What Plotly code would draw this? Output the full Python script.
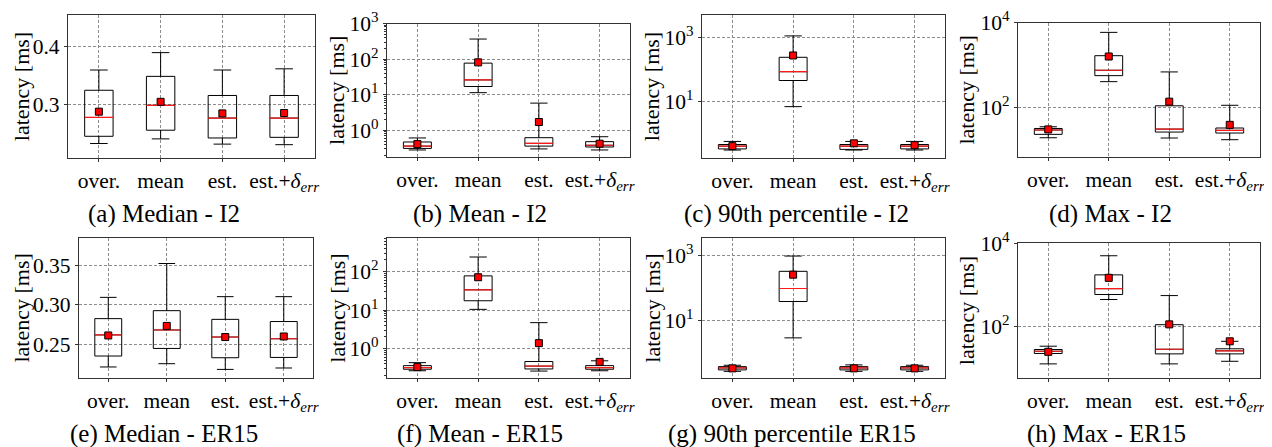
import plotly.graph_objects as go

W, H = 1272, 447
OFF = 8  # page body margin of the browser
FW, FH = W - OFF, H - OFF

categories = ["over.", "mean", "est.", "est.+<i>δ</i><sub><i>err</i></sub>"]

# (a) Median - I2
a_lo = [0.233, 0.241, 0.232, 0.231]
a_q1 = [0.2455, 0.256, 0.2426, 0.2437]
a_med = [0.278, 0.299, 0.277, 0.277]
a_q3 = [0.325, 0.349, 0.316, 0.316]
a_hi = [0.360, 0.390, 0.360, 0.362]
a_mean = [0.288, 0.305, 0.285, 0.2857]

# (b) Mean - I2
b_lo = [0.28, 11.4, 0.30, 0.28]
b_q1 = [0.31, 17.0, 0.36, 0.34]
b_med = [0.36, 26.0, 0.43, 0.38]
b_q3 = [0.47, 77.0, 0.62, 0.48]
b_hi = [0.61, 366.0, 5.8, 0.66]
b_mean = [0.41, 81.0, 1.71, 0.42]

# (c) 90th percentile - I2
c_lo = [0.295, 6.8, 0.295, 0.295]
c_q1 = [0.32, 45.0, 0.31, 0.32]
c_med = [0.39, 85.0, 0.39, 0.39]
c_q3 = [0.44, 241.0, 0.44, 0.44]
c_hi = [0.55, 1130.0, 0.55, 0.55]
c_mean = [0.39, 275.0, 0.48, 0.42]

# (d) Max - I2
d_lo = [18.7, 400.0, 18.4, 16.8]
d_q1 = [22.5, 555.0, 25.5, 24.2]
d_med = [28.5, 745.0, 30.0, 28.0]
d_q3 = [31.0, 1650.0, 107.0, 31.8]
d_hi = [34.0, 5900.0, 680.0, 110.0]
d_mean = [29.5, 1580.0, 134.0, 37.8]

# (e) Median - ER15
e_lo = [0.2207, 0.2249, 0.2176, 0.2194]
e_q1 = [0.2347, 0.2444, 0.2325, 0.2329]
e_med = [0.2617, 0.268, 0.259, 0.2568]
e_q3 = [0.2825, 0.2927, 0.2816, 0.2788]
e_hi = [0.3097, 0.353, 0.3106, 0.3106]
e_mean = [0.261, 0.2732, 0.259, 0.2597]

# (f) Mean - ER15
f_lo = [0.265, 10.4, 0.26, 0.265]
f_q1 = [0.29, 17.4, 0.295, 0.29]
f_med = [0.32, 33.5, 0.35, 0.32]
f_q3 = [0.36, 77.0, 0.46, 0.36]
f_hi = [0.43, 238.0, 4.7, 0.48]
f_mean = [0.33, 71.0, 1.38, 0.45]

# (g) 90th percentile ER15
g_lo = [0.28, 2.95, 0.28, 0.28]
g_q1 = [0.31, 38.0, 0.31, 0.31]
g_med = [0.355, 95.0, 0.355, 0.355]
g_q3 = [0.39, 318.0, 0.39, 0.39]
g_hi = [0.43, 930.0, 0.44, 0.43]
g_mean = [0.345, 251.0, 0.345, 0.345]

# (h) Max - ER15
h_lo = [12.3, 436.0, 12.3, 14.2]
h_q1 = [21.9, 575.0, 21.4, 21.4]
h_med = [24.8, 795.0, 27.7, 25.4]
h_q3 = [27.3, 1710.0, 108.0, 28.4]
h_hi = [32.8, 4930.0, 542.0, 43.0]
h_mean = [24.0, 1450.0, 110.0, 43.0]

captions = ["(a) Median - I2", "(b) Mean - I2", "(c) 90th percentile - I2", "(d) Max - I2",
            "(e) Median - ER15", "(f) Mean - ER15", "(g) 90th percentile ER15", "(h) Max - ER15"]

panels = [
    dict(data=(a_lo, a_q1, a_med, a_q3, a_hi, a_mean), log=False, rng=[0.208, 0.455],
         tv=[0.3, 0.4], tt=["0.3", "0.4"], dom=(68, 315, 15, 158), ytx=21.7, capx=164, capy=214),
    dict(data=(b_lo, b_q1, b_med, b_q3, b_hi, b_mean), log=True, rng=[-0.75, 3.0],
         tv=[1, 10, 100, 1000], tt=["10<sup>0</sup>", "10<sup>1</sup>", "10<sup>2</sup>", "10<sup>3</sup>"],
         dom=(387, 630, 23.5, 157), ytx=336.7, capx=480, capy=214, minor=True),
    dict(data=(c_lo, c_q1, c_med, c_q3, c_hi, c_mean), log=True, rng=[-0.78, 3.71],
         tv=[10, 1000], tt=["10<sup>1</sup>", "10<sup>3</sup>"], dom=(702, 945, 15, 158),
         ytx=651.7, capx=796, capy=214),
    dict(data=(d_lo, d_q1, d_med, d_q3, d_hi, d_mean), log=True, rng=[0.815, 4.0],
         tv=[100, 10000], tt=["10<sup>2</sup>", "10<sup>4</sup>"], dom=(1018, 1260, 22.7, 157),
         ytx=966.7, capx=1110, capy=214),
    dict(data=(e_lo, e_q1, e_med, e_q3, e_hi, e_mean), log=False, rng=[0.2066, 0.386],
         tv=[0.25, 0.30, 0.35], tt=["0.25", "0.30", "0.35"], dom=(79, 313, 237.7, 378),
         ytx=21.7, capx=164, capy=434),
    dict(data=(f_lo, f_q1, f_med, f_q3, f_hi, f_mean), log=True, rng=[-0.765, 2.87],
         tv=[1, 10, 100], tt=["10<sup>0</sup>", "10<sup>1</sup>", "10<sup>2</sup>"],
         dom=(387, 630, 238, 378), ytx=336.7, capx=480, capy=434, minor=True),
    dict(data=(g_lo, g_q1, g_med, g_q3, g_hi, g_mean), log=True, rng=[-0.756, 3.52],
         tv=[10, 1000], tt=["10<sup>1</sup>", "10<sup>3</sup>"], dom=(702, 945, 238, 378),
         ytx=651.7, capx=792, capy=434),
    dict(data=(h_lo, h_q1, h_med, h_q3, h_hi, h_mean), log=True, rng=[0.75, 4.0],
         tv=[100, 10000], tt=["10<sup>2</sup>", "10<sup>4</sup>"], dom=(1018, 1260, 243, 378),
         ytx=966.7, capx=1106, capy=434),
]

FONT = "Liberation Serif"
SPINE = "#333333"
GRID = "#8c8c8c"
positions = list(range(len(categories)))
BOXW = 0.46


def px_x(x):
    return (x - OFF) / FW


def px_y(y):
    return 1 - (y - OFF) / FH


fig = go.Figure()
annotations = []
layout_axes = {}

for i, p in enumerate(panels):
    n = i + 1
    xa = "x" if n == 1 else f"x{n}"
    ya = "y" if n == 1 else f"y{n}"
    lo, q1, med, q3, hi, mean = p["data"]
    fig.add_trace(go.Box(
        x=positions, q1=q1, median=med, q3=q3, lowerfence=lo, upperfence=hi,
        xaxis=xa, yaxis=ya, width=BOXW, whiskerwidth=0.62,
        line=dict(color="black", width=1), fillcolor="rgba(0,0,0,0)",
        boxpoints=False, showlegend=False, hoverinfo="skip"))
    # red median lines
    fig.add_trace(go.Box(
        x=positions, q1=med, median=med, q3=med, lowerfence=med, upperfence=med,
        xaxis=xa, yaxis=ya, width=BOXW, whiskerwidth=0,
        line=dict(color="#ff1a1a", width=1.2), fillcolor="rgba(0,0,0,0)",
        boxpoints=False, showlegend=False, hoverinfo="skip"))
    fig.add_trace(go.Scatter(
        x=positions, y=mean, mode="markers", xaxis=xa, yaxis=ya,
        marker=dict(symbol="square", size=7, color="red", line=dict(color="black", width=1)),
        showlegend=False, hoverinfo="skip"))

    x0, x1, y0, y1 = p["dom"]
    xkey = "xaxis" if n == 1 else f"xaxis{n}"
    ykey = "yaxis" if n == 1 else f"yaxis{n}"
    common = dict(
        showgrid=True, gridcolor=GRID, griddash="3px,2px", gridwidth=0.8,
        showline=True, mirror=True, linecolor=SPINE, linewidth=1.2,
        ticks="outside", ticklen=3, tickcolor=SPINE, zeroline=False, automargin=False,
        tickfont=dict(family=FONT, size=21.5, color="black"))
    layout_axes[xkey] = dict(
        domain=[px_x(x0), px_x(x1)], anchor=ya, range=[-0.5, len(categories) - 0.5],
        tickmode="array", tickvals=positions, ticktext=categories, **common)
    yax = dict(
        domain=[px_y(y1), px_y(y0)], anchor=xa,
        type="log" if p["log"] else "linear", range=p["rng"],
        tickmode="array", tickvals=p["tv"], ticktext=p["tt"], **common)
    if p.get("minor"):
        yax["minor"] = dict(ticks="outside", ticklen=2, tickcolor=SPINE, dtick="D1", showgrid=False)
    layout_axes[ykey] = yax

    annotations.append(dict(
        text="latency [ms]", textangle=-90, xref="paper", yref="paper",
        x=px_x(p["ytx"]), y=px_y((y0 + y1) / 2), xanchor="center", yanchor="middle",
        showarrow=False, font=dict(family=FONT, size=22, color="black")))
    annotations.append(dict(
        text=captions[i], xref="paper", yref="paper",
        x=px_x(p["capx"]), y=px_y(p["capy"]), xanchor="center", yanchor="middle",
        showarrow=False, font=dict(family=FONT, size=25, color="black")))

fig.update_layout(
    template="none",
    width=FW, height=FH, margin=dict(l=0, r=0, t=0, b=0, pad=0, autoexpand=False),
    paper_bgcolor="white", plot_bgcolor="white", boxmode="overlay", showlegend=False,
    annotations=annotations, **layout_axes)

fig.write_html("out.html")
